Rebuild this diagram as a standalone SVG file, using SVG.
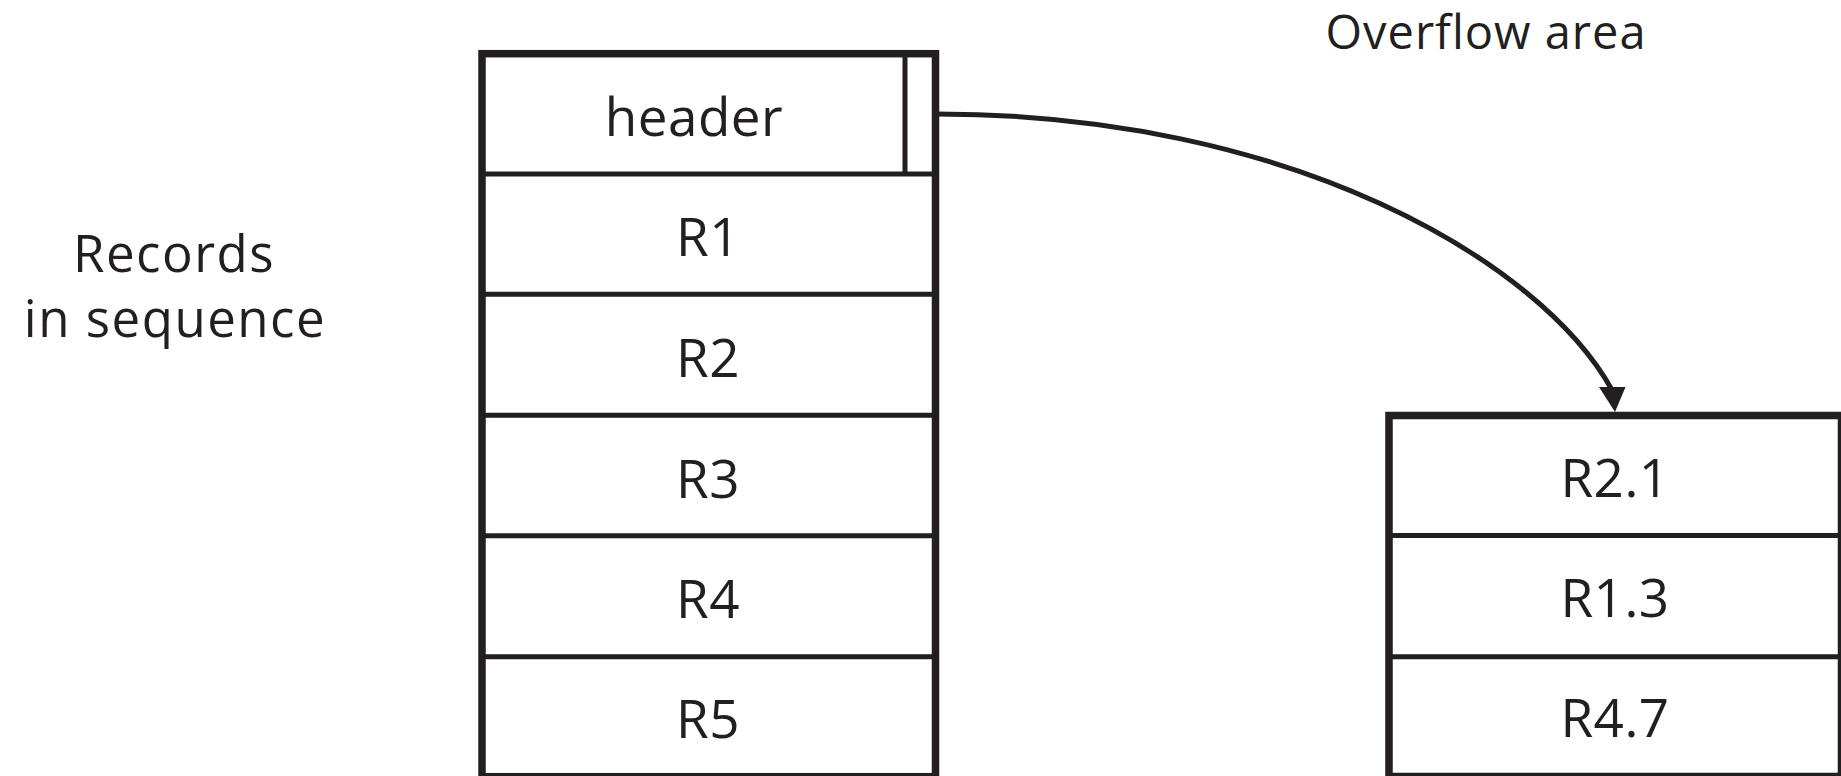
<svg xmlns="http://www.w3.org/2000/svg" width="1841" height="776" viewBox="0 0 1841 776">
  <style>
    .box { fill: #ffffff; stroke: #231f20; stroke-width: 7.5; }
    .div { stroke: #231f20; stroke-width: 5; fill: none; }
    .lbl { font-family: "Open Sans", "DejaVu Sans", sans-serif; font-size: 53px; fill: #231f20; text-anchor: middle; letter-spacing: 0.5px; }
    .side { font-size: 51px; letter-spacing: 1.5px; }
    .title { font-size: 47px; letter-spacing: 1px; }
    .conn { fill: none; stroke: #231f20; stroke-width: 5; }
    .head { fill: #231f20; stroke: none; }
  </style>
  <rect width="1841" height="776" fill="#ffffff"/>

  <g id="label-records">
    <text class="lbl side" x="174" y="271.7">Records</text>
    <text class="lbl side" x="175" y="336.7">in sequence</text>
  </g>

  <g id="label-overflow">
    <text class="lbl title" x="1486" y="49">Overflow area</text>
  </g>

  <g id="sequence-file">
    <rect class="box" x="482" y="53.7" width="453.5" height="723"/>
    <line class="div" x1="905" y1="53.7" x2="905" y2="174"/>
    <line class="div" x1="482" y1="174" x2="935.5" y2="174"/>
    <line class="div" x1="482" y1="294.2" x2="935.5" y2="294.2"/>
    <line class="div" x1="482" y1="415.2" x2="935.5" y2="415.2"/>
    <line class="div" x1="482" y1="535.8" x2="935.5" y2="535.8"/>
    <line class="div" x1="482" y1="656.7" x2="935.5" y2="656.7"/>
    <g id="header"><text class="lbl" x="694" y="136">header</text></g>
    <g id="R1"><text class="lbl" x="708" y="256">R1</text></g>
    <g id="R2"><text class="lbl" x="708" y="376.7">R2</text></g>
    <g id="R3"><text class="lbl" x="708" y="497.5">R3</text></g>
    <g id="R4"><text class="lbl" x="708" y="618">R4</text></g>
    <g id="R5"><text class="lbl" x="708" y="738.3">R5</text></g>
  </g>

  <g id="overflow-area">
    <rect class="box" x="1389" y="415.5" width="452.5" height="361"/>
    <line class="div" x1="1389" y1="535.5" x2="1841" y2="535.5"/>
    <line class="div" x1="1389" y1="656.7" x2="1841" y2="656.7"/>
    <g id="R2.1"><text class="lbl" x="1615" y="497.3">R2.1</text></g>
    <g id="R1.3"><text class="lbl" x="1615" y="617.3">R1.3</text></g>
    <g id="R4.7"><text class="lbl" x="1615" y="737.3">R4.7</text></g>
  </g>

  <g id="connectors">
    <path class="conn" d="M 937 114 C 1289 114 1540 260 1612 390"/>
    <polygon class="head" points="1599,387 1625.5,387 1615,412"/>
  </g>
</svg>
